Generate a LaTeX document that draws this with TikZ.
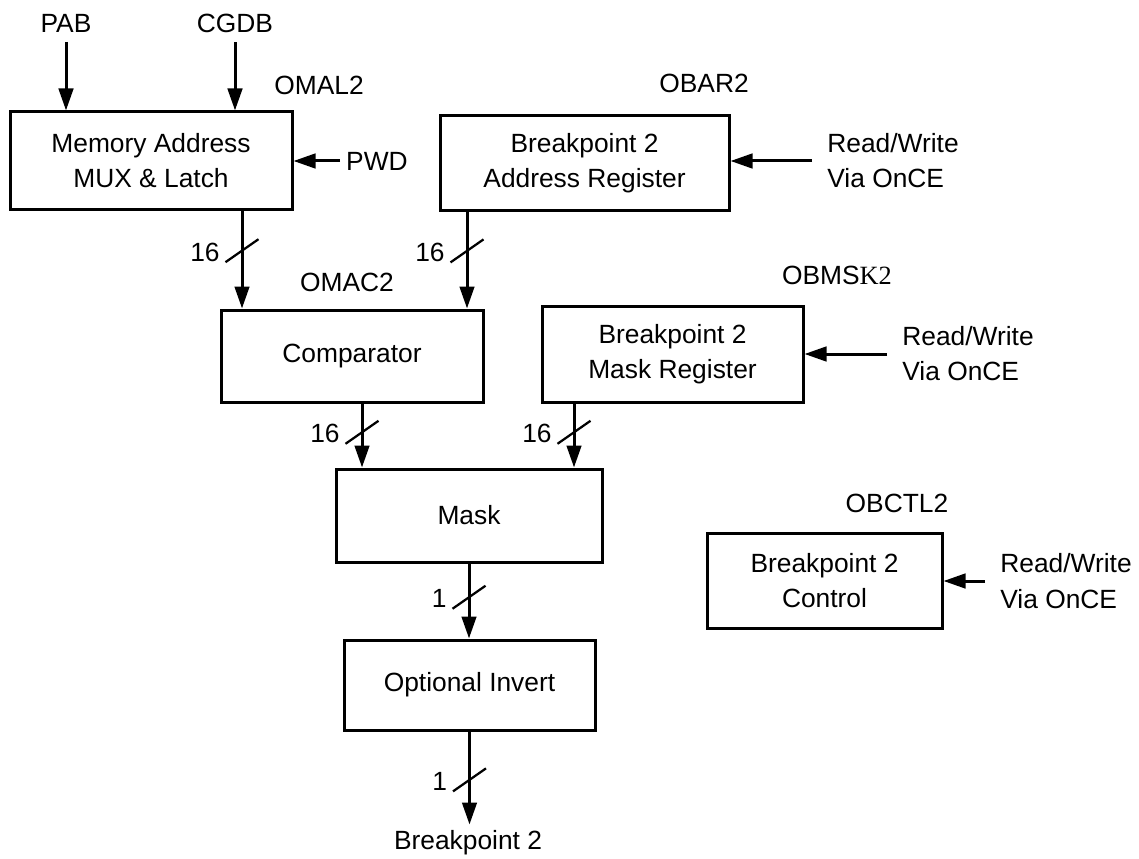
\documentclass[tikz,border=0pt]{standalone}
\usepackage{fontspec}
\setmainfont{Liberation Sans}
\newfontfamily\kfont{Liberation Serif}
\usetikzlibrary{arrows.meta}

\tikzset{
  every node/.style={font=\fontsize{15pt}{20pt}\selectfont},
  block/.style={draw=black, line width=0.6mm, align=center, inner sep=0pt},
  sig/.style={black, line width=0.6mm, -{Triangle[length=4.4mm,width=2.9mm]}},
  slash/.style={black, line width=0.45mm},
  rw/.style={anchor=west, align=left, inner xsep=0.3cm}
}

\begin{document}
\begin{tikzpicture}
\useasboundingbox (0,0) rectangle (22.78,-17.18);

% blocks
\node[block, minimum width=5.64cm, minimum height=1.94cm] (mem) at (3.02,-3.21) {Memory Address\\MUX \& Latch};
\node[block, minimum width=5.78cm, minimum height=1.90cm] (bar) at (11.69,-3.27) {Breakpoint 2\\Address Register};
\node[block, minimum width=5.24cm, minimum height=1.84cm] (cmp) at (7.04,-7.12) {Comparator};
\node[block, minimum width=5.22cm, minimum height=1.92cm] (mreg) at (13.45,-7.08) {Breakpoint 2\\Mask Register};
\node[block, minimum width=5.32cm, minimum height=1.86cm] (mask) at (9.38,-10.31) {Mask};
\node[block, minimum width=5.02cm, minimum height=1.80cm] (inv) at (9.39,-13.70) {Optional Invert};
\node[block, minimum width=4.70cm, minimum height=1.90cm] (ctl) at (16.49,-11.61) {Breakpoint 2\\Control};

% register names
\node (omal) at (6.38,-1.70) {OMAL2};
\node (obar) at (14.08,-1.66) {OBAR2};
\node (omac) at (6.94,-5.64) {OMAC2};
\node (obmsk) at (16.74,-5.50) {OBMS{\kfont K2}};
\node (obctl) at (17.94,-10.06) {OBCTL2};

% inputs and output
\node (pab) at (1.32,-0.46) {PAB};
\node (cgdb) at (4.70,-0.46) {CGDB};
\node[anchor=west] (pwd) at (6.80,-3.22) {PWD};
\node[rw] (rwa) at (16.24,-3.22) {Read/Write\\Via OnCE};
\node[rw] (rwb) at (17.74,-7.08) {Read/Write\\Via OnCE};
\node[rw] (rwc) at (19.70,-11.62) {Read/Write\\Via OnCE};
\node (bp) at (9.36,-16.86) {Breakpoint 2};

% connectors
\draw[sig, shorten <=2pt] (pab) -- (pab |- mem.north);
\draw[sig, shorten <=2pt] (cgdb) -- (cgdb |- mem.north);
\draw[sig] (pwd) -- (mem.east |- pwd);
\draw[sig] (rwa.west) -- (bar.east |- rwa.west);
\draw[sig] (rwb.west) -- (mreg.east |- rwb.west);
\draw[sig] (rwc.west) -- (ctl.east |- rwc.west);

\draw[sig] (4.84,0 |- mem.south) -- coordinate[pos=0.41] (w1) (4.84,0 |- cmp.north);
\draw[sig] (9.34,0 |- bar.south) -- coordinate[pos=0.40] (w2) (9.34,0 |- cmp.north);
\draw[sig] (7.24,0 |- cmp.south) -- coordinate[pos=0.45] (w3) (7.24,0 |- mask.north);
\draw[sig] (11.48,0 |- mreg.south) -- coordinate[pos=0.45] (w4) (11.48,0 |- mask.north);
\draw[sig] (mask.south) -- coordinate[pos=0.45] (w5) (mask.south |- inv.north);
\draw[sig] (inv.south) -- coordinate[pos=0.52] (w6) (inv.south |- bp.north);

% bus widths
\foreach \w/\n in {w1/16, w2/16, w3/16, w4/16, w5/1, w6/1}{
  \draw[slash] ([shift={(-0.33,-0.23)}]\w) -- ([shift={(0.33,0.23)}]\w);
  \node[anchor=east, inner sep=0pt] at ([shift={(-0.44,-0.03)}]\w) {\n};
}
\end{tikzpicture}
\end{document}
